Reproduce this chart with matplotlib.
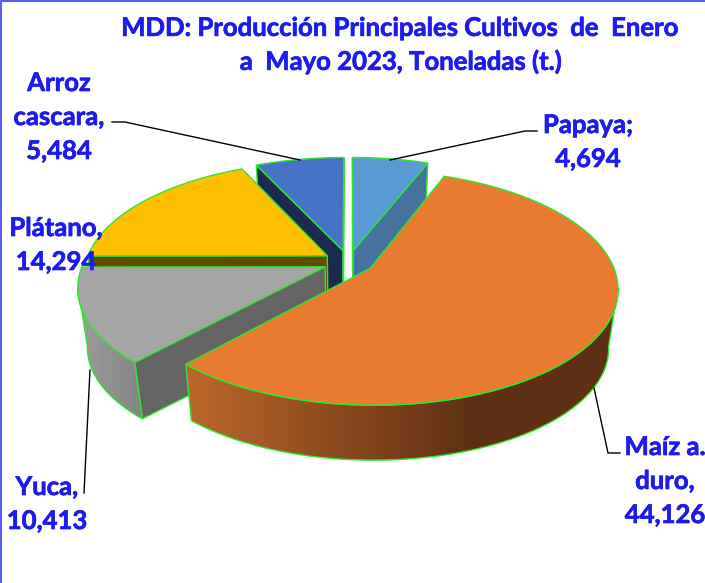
import numpy as np
import matplotlib
matplotlib.use('Agg')
import matplotlib.pyplot as plt
from matplotlib.patches import Polygon
from matplotlib.colors import LinearSegmentedColormap
import matplotlib.patheffects as pe

# data, clockwise from the top
cultivos = ['Papaya', 'Maíz a.\nduro', 'Yuca', 'Plátano', 'Arroz\ncascara']
toneladas = [4694, 44126, 10413, 14294, 5484]
separador = [';', ',', ',', ',', ',']
titulo = 'MDD: Producción Principales Cultivos  de  Enero\na  Mayo 2023, Toneladas (t.)'

# colours
top_col = ['#5B9BD5', '#E97C30', '#A5A5A5', '#FFC000', '#4472C4']
side_col = ['#44729D', '#5E3013', '#646464', '#644B00', '#1A2B4E']
arc_from = ['#44729D', '#BC672B', '#9C9C9C', '#9C7500', '#2A4A80']
arc_to = ['#44729D', '#5E3013', '#858585', '#9C7500', '#2A4A80']
verde = '#2FE62F'
azul = '#1C1CF0'

# pie geometry in pixels
cx, cy = 348.5, 262
A, B, K = 241.5, 112, 0.165
EXPL = 0.105
DEPTH = 60
SHRINK = 0.965

# label placement: x, y (centre), leader line
label_pos = [(588, 142), (665, 481), (47, 504), (56, 245), (59, 117)]
leaders = [
    [(390, 160), (525, 131), (537, 131)],
    [(594, 388), (608, 453), (620, 453)],
    [(90, 370), (84, 493)],
    [],
    [(300, 160), (125, 122), (112, 122)],
]


def project_uv(u, v, h=0):
    x = A * u / (1 + K * v)
    y = -B * v / (1 + K * v)
    if h:
        return cx + x * SHRINK, cy + y * SHRINK + DEPTH
    return cx + x, cy + y


def project(theta, mid, h=0):
    u = np.sin(theta) + EXPL * np.sin(mid)
    v = np.cos(theta) + EXPL * np.cos(mid)
    return project_uv(u, v, h)


fig = plt.figure(figsize=(7.05, 5.83), dpi=100)
ax = fig.add_axes([0, 0, 1, 1])
ax.set_xlim(0, 705)
ax.set_ylim(583, 0)
ax.axis('off')

vals = np.array(toneladas, dtype=float)
edges = np.concatenate([[0], np.cumsum(vals)]) / vals.sum() * 2 * np.pi

z = 2
for i in [4, 0, 3, 2, 1]:  # back to front
    t0, t1 = edges[i], edges[i + 1]
    mid = (t0 + t1) / 2
    th = np.linspace(t0, t1, 240)
    ax0 = project_uv(EXPL * np.sin(mid), EXPL * np.cos(mid))
    ax1 = project_uv(EXPL * np.sin(mid), EXPL * np.cos(mid), 1)
    x, y = project(th, mid)
    xb, yb = project(th, mid, 1)

    # flat cut faces, only those turned to the viewer
    for j, seen in [(0, np.sin(t0) <= 1e-9), (-1, np.sin(t1) >= -1e-9)]:
        if seen:
            pts = [ax0, (x[j], y[j]), (xb[j], yb[j]), ax1]
            ax.add_patch(Polygon(pts, closed=True, fc=side_col[i], ec=verde, lw=1, zorder=z))
            z += 1

    # outer wall with a horizontal shade, front part of the arc only
    front = np.cos(th) < -K
    if front.any():
        wall = np.column_stack([np.r_[x[front], xb[front][::-1]], np.r_[y[front], yb[front][::-1]]])
        clip = Polygon(wall, closed=True, transform=ax.transData)
        cmap = LinearSegmentedColormap.from_list('w', [arc_from[i], arc_to[i]])
        stop = 0.66 if i == 1 else 1  # the maize wall stops getting darker before its end
        grad = np.clip(np.linspace(0, 1, 256) / stop, 0, 1).reshape(1, -1)
        im = ax.imshow(grad, cmap=cmap, aspect='auto', zorder=z, interpolation='bilinear',
                       extent=(wall[:, 0].min(), wall[:, 0].max(), wall[:, 1].max(), wall[:, 1].min()))
        im.set_clip_path(clip)
        ax.add_patch(Polygon(wall, closed=True, fc='none', ec=verde, lw=1, zorder=z + 1))
        z += 2

    # top
    top = np.column_stack([np.r_[ax0[0], x], np.r_[ax0[1], y]])
    ax.add_patch(Polygon(top, closed=True, fc=top_col[i], ec=verde, lw=1, zorder=z))
    z += 1

ax.set_xlim(0, 705)
ax.set_ylim(583, 0)

grueso = [pe.withStroke(linewidth=0.5, foreground=azul)]
for i in range(len(cultivos)):
    if leaders[i]:
        lx, ly = zip(*leaders[i])
        ax.plot(lx, ly, color='black', lw=1, zorder=z)
    ax.text(label_pos[i][0], label_pos[i][1],
            f'{cultivos[i]}{separador[i]}\n{toneladas[i]:,}',
            family='Lato', weight='bold', color=azul, fontsize=18.5,
            ha='center', va='center', linespacing=1.5, zorder=z + 1, path_effects=grueso)

ax.text(401, 45, titulo, family='Lato', weight='bold', color=azul, fontsize=18.5,
        ha='center', va='center', linespacing=1.42, zorder=z + 1, path_effects=grueso)

# chart border, left and top
ax.plot([0.7, 0.7, 705], [583, 0.7, 0.7], color='#5B5BF0', lw=1.5, zorder=z)

fig.savefig('out.png', dpi=100)
